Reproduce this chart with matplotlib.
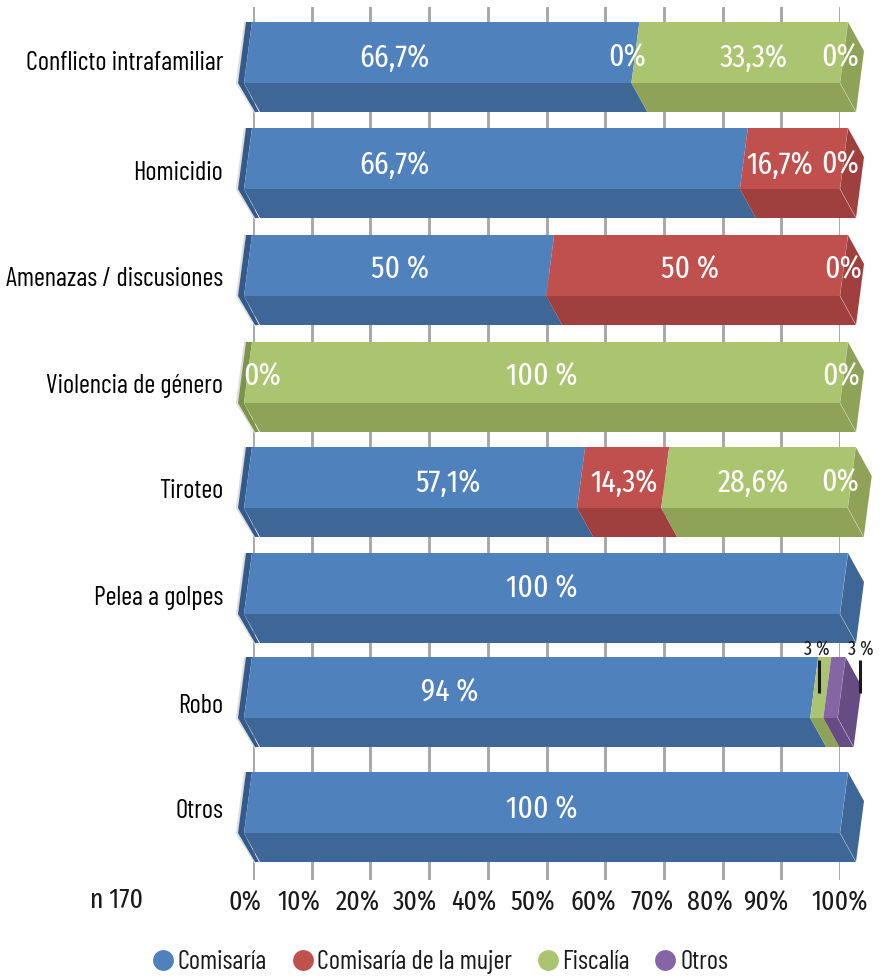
import matplotlib
matplotlib.use('Agg')
import matplotlib.pyplot as plt
from matplotlib.lines import Line2D
from matplotlib.transforms import ScaledTranslation

plt.rcParams['font.family'] = ['Fira Sans Extra Condensed', 'Barlow Condensed', 'Open Sans', 'DejaVu Sans']
narrow = ['Barlow Condensed', 'Fira Sans Extra Condensed', 'Open Sans', 'DejaVu Sans']

# Data (bar lengths do not always agree with the printed labels)
categories = ['Conflicto intrafamiliar', 'Homicidio', 'Amenazas / discusiones',
              'Violencia de género', 'Tiroteo', 'Pelea a golpes', 'Robo', 'Otros']
series_names = ['Comisaría', 'Comisaría de la mujer', 'Fiscalía', 'Otros']
comisaria = [65.0, 83.2, 50.7, 0, 55.9, 100, 95.0, 100]
mujer = [0, 16.8, 49.3, 0, 14.1, 0, 0, 0]
fiscalia = [35.0, 0, 0, 100, 31.3, 0, 2.2, 0]
otros = [0, 0, 0, 0, 0, 0, 2.4, 0]

row_labels = [['66,7%', '0%', '33,3%', '0%'],
              ['66,7%', '16,7%', '0%'],
              ['50 %', '50 %', '0%'],
              ['0%', '100 %', '0%'],
              ['57,1%', '14,3%', '28,6%', '0%'],
              ['100 %'],
              ['94 %'],
              ['100 %']]
tick_values = [0, 10, 20, 30, 40, 50, 60, 70, 80, 90, 100]
tick_labels = ['0%', '10%', '20%', '30%', '40%', '50%', '60%', '70%', '80%', '90%', '100%']
n_text = 'n 170'

# Colours: front, lower face / side, left strip
front = ['#4f81bd', '#c0504d', '#abc470', '#8565a3']
shade = ['#3e6696', '#9f403e', '#8fa358', '#664c82']
strip = ['#345a8a', '#8a3634', '#7c934a', '#54406d']

# Layout in picture pixels
row_top = [22, 128, 235, 342, 447, 553, 657, 772]
cat_y = [60, 170, 276, 383, 488, 595, 703, 808]
label_y = [58, 165, 270, 377, 483, 589, 693, 810]
label_px = [[394, 627, 754, 840],
            [394, 780, 840],
            [400, 690, 843],
            [262, 542, 841],
            [448, 624, 753, 840],
            [542],
            [450],
            [542]]
tick_shift = [-8, -13, -13, -14, -14, -14, -12, -12, -13, -16, 0]
PX = 5.87  # pixels per percent on the axis
face_h = 61
side_dy = 29
side_dx = 16 / PX
skew = 8 / PX
bar_x0 = (244 - 253) / PX
bar_k = 5.96 / PX

W, H = 880, 980
fig = plt.figure(figsize=(W / 100, H / 100), dpi=100)
ax = fig.add_axes([253 / W, 1 - 880 / H, (840 - 253) / W, (880 - 7) / H])
ax.set_xlim(0, 100)
ax.set_ylim(880, 7)
for s in ax.spines.values():
    s.set_visible(False)
ax.set_axisbelow(True)
ax.grid(axis='x', color='#a8a8a8', lw=2.1)

ax.set_xticks(tick_values)
ax.set_xticklabels(tick_labels, fontsize=20, color='#1a1a1a')
ax.tick_params(axis='x', length=0, pad=7)
for lab, dx in zip(ax.get_xticklabels(), tick_shift):
    lab.set_transform(lab.get_transform() + ScaledTranslation(dx / 100, 0, fig.dpi_scale_trans))
ax.set_yticks(cat_y)
ax.set_yticklabels(categories, fontsize=19, color='black', family=narrow)
ax.tick_params(axis='y', length=0, pad=21.5)


def px(x):
    return (x - 253) / PX


def poly(pts, color, z=3):
    xs = [p[0] for p in pts]
    ys = [p[1] for p in pts]
    ax.fill(xs, ys, color=color, lw=0, zorder=z, clip_on=False)


series = [comisaria, mujer, fiscalia, otros]
for i, top in enumerate(row_top):
    bot = top + face_h
    low = bot + side_dy
    vals = [s[i] for s in series]
    first = next(k for k, v in enumerate(vals) if v > 0)
    last = max(k for k, v in enumerate(vals) if v > 0)

    # soft shadow and dark strip on the left end
    ax.plot([bar_x0 + skew - 1.2, bar_x0 - 1.2, px(255)], [top + 1, bot, low], color='#dddddd',
            lw=1.6, zorder=2, clip_on=False)
    poly([(px(246), top), (px(252), top), (px(244), bot), (px(238), bot)], strip[first])
    poly([(px(238), bot), (px(244), bot), (px(259), low), (px(255), low)], strip[first])

    a = 0
    for k, v in enumerate(vals):
        if v == 0:
            continue
        x1 = bar_x0 + bar_k * a
        x2 = bar_x0 + bar_k * (a + v)
        poly([(x1 + skew, top), (x2 + skew, top), (x2, bot), (x1, bot)], front[k])
        poly([(x1, bot), (x2, bot), (x2 + side_dx, low), (x1 + side_dx, low)], shade[k])
        a += v
    x2 = bar_x0 + bar_k * a
    poly([(x2 + skew, top), (x2 + skew + side_dx, top + side_dy),
          (x2 + side_dx, low), (x2, bot)], shade[last], z=4)
    ax.plot([x2, x2 + side_dx], [bot, low], color='white', lw=0.4, alpha=0.5, zorder=5, clip_on=False)
    ax.plot([x2 + skew, x2], [top, bot], color='white', lw=0.3, alpha=0.3, zorder=5, clip_on=False)

    for txt, xp in zip(row_labels[i], label_px[i]):
        ax.text(px(xp), label_y[i], txt, color='white', fontsize=23, ha='center', va='center',
                zorder=6, clip_on=False)

# small callouts on Robo
for xp, lx in [(819, 817), (860, 861)]:
    ax.plot([px(xp), px(xp)], [660, 693], color='#1a1a1a', lw=2.2, zorder=7, solid_capstyle='butt',
            clip_on=False)
    ax.text(px(lx), 649, '3 %', fontsize=14, color='#1a1a1a', ha='center', va='center', clip_on=False, zorder=7)

fig.text(117 / W, 1 - 900 / H, n_text, fontsize=20, color='#1a1a1a', ha='center', va='center')

handles = [Line2D([], [], ls='none', marker='o', ms=15, mfc=c, mec='none') for c in front]
fig.legend(handles, series_names, ncol=4, loc='center', bbox_to_anchor=(439 / W, 1 - 962 / H),
           frameon=False, prop={'family': narrow, 'size': 19}, labelcolor='#1a1a1a', handletextpad=0.05,
           columnspacing=0.85, handlelength=1.0, borderpad=0)

fig.savefig('out.png', dpi=100)
